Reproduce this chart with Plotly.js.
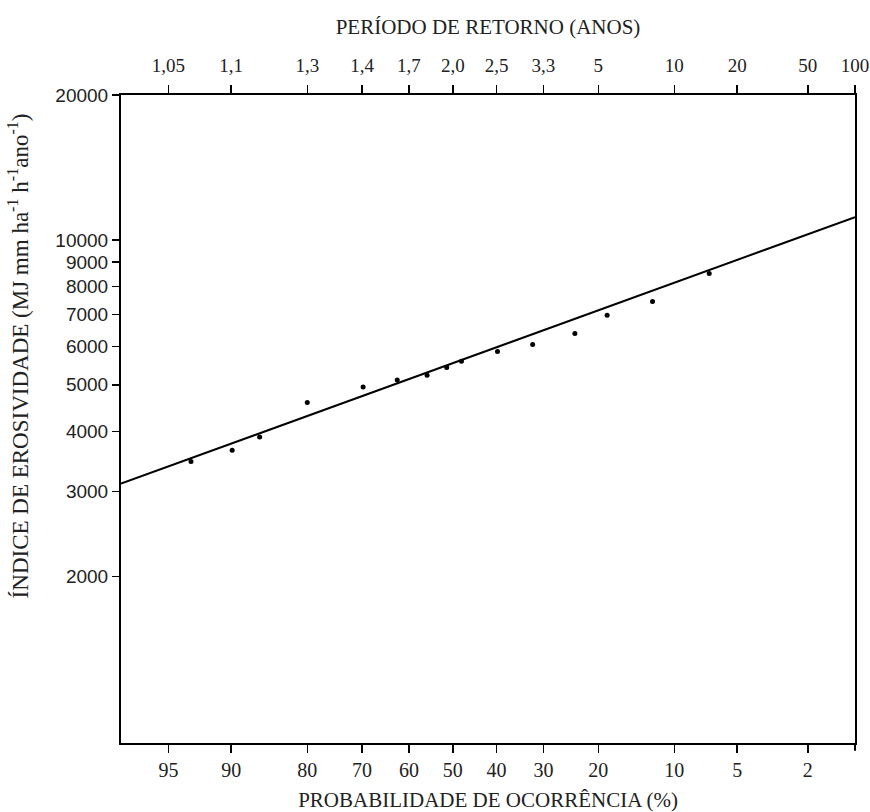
<!DOCTYPE html>
<html><head><meta charset="utf-8">
<script src="https://cdn.plot.ly/plotly-3.0.1.min.js"></script>
<style>html,body{margin:0;padding:0;background:#fff}#chart{width:870px;height:812px}</style>
</head><body><div id="chart"></div>
<script>
// Observed annual erosivity values and their probability of occurrence (%)
const probOccurrence = [93.5, 89.9, 86.8, 80.0, 69.8, 62.6, 55.9, 51.4, 48.0, 39.8, 32.2, 24.0, 18.6, 12.4, 6.9];
const erosivity = [3467, 3656, 3896, 4594, 4949, 5118, 5235, 5431, 5598, 5863, 6063, 6391, 6975, 7449, 8518];
// Fitted (log-normal) line end points
const fitProb = [97.25, 1];
const fitErosivity = [3117, 11153];
// Bottom axis: probability of occurrence (%)
const probTicks = [95, 90, 80, 70, 60, 50, 40, 30, 20, 10, 5, 2];
const probTickLabels = ["95", "90", "80", "70", "60", "50", "40", "30", "20", "10", "5", "2"];
// Top axis: return period (years)
const returnPeriods = [1.0526, 1.1111, 1.25, 1.4286, 1.6667, 2, 2.5, 3.3333, 5, 10, 20, 50, 100];
const returnPeriodLabels = ["1,05", "1,1", "1,3", "1,4", "1,7", "2,0", "2,5", "3,3", "5", "10", "20", "50", "100"];
// Y axis ticks
const yTicks = [2000, 3000, 4000, 5000, 6000, 7000, 8000, 9000, 10000, 20000];
const yTickLabels = ["2000", "3000", "4000", "5000", "6000", "7000", "8000", "9000", "10000", "20000"];
const probRange = [97.25, 1];
const yRange = [901.6, 20000];

function normInv(p){
  const a=[-3.969683028665376e+01,2.209460984245205e+02,-2.759285104469687e+02,1.383577518672690e+02,-3.066479806614716e+01,2.506628277459239e+00];
  const b=[-5.447609879822406e+01,1.615858368580409e+02,-1.556989798598866e+02,6.680131188771972e+01,-1.328068155288572e+01];
  const c=[-7.784894002430293e-03,-3.223964580411365e-01,-2.400758296709947e+00,-2.549732539343734e+00,4.374664141464968e+00,2.938163982698783e+00];
  const d=[7.784695709041462e-03,3.224671290700398e-01,2.445134137142996e+00,3.754408661907416e+00];
  const pl=0.02425, ph=1-pl; let q,r;
  if(p<pl){q=Math.sqrt(-2*Math.log(p));return (((((c[0]*q+c[1])*q+c[2])*q+c[3])*q+c[4])*q+c[5])/((((d[0]*q+d[1])*q+d[2])*q+d[3])*q+1);}
  if(p<=ph){q=p-0.5;r=q*q;return (((((a[0]*r+a[1])*r+a[2])*r+a[3])*r+a[4])*r+a[5])*q/(((((b[0]*r+b[1])*r+b[2])*r+b[3])*r+b[4])*r+1);}
  q=Math.sqrt(-2*Math.log(1-p));return -(((((c[0]*q+c[1])*q+c[2])*q+c[3])*q+c[4])*q+c[5])/((((d[0]*q+d[1])*q+d[2])*q+d[3])*q+1);
}
// probability of occurrence (%) -> normal probability paper coordinate
const zOf = pct => normInv(1 - pct / 100);

const xRange = [zOf(probRange[0]), zOf(probRange[1]) + 1e-6];
const serif = "Liberation Serif, Times New Roman, serif";
const sans = "Liberation Sans, Arial, sans-serif";
const txt = "#222";

const traces = [
  { x: fitProb.map(zOf), y: fitErosivity, mode: "lines", line: {color: "#000", width: 2},
    showlegend: false, hoverinfo: "skip", cliponaxis: true },
  { x: probOccurrence.map(zOf), y: erosivity, mode: "markers", marker: {color: "#000", size: 5},
    showlegend: false, customdata: probOccurrence,
    hovertemplate: "%{customdata}%: %{y}<extra></extra>" },
  { x: [], y: [], xaxis: "x2", yaxis: "y", mode: "lines", showlegend: false, hoverinfo: "skip" }
];

const layout = {
  width: 870, height: 812,
  margin: {l: 121, r: 15, t: 95, b: 69},
  paper_bgcolor: "#fff", plot_bgcolor: "#fff",
  showlegend: false,
  xaxis: {
    range: xRange, tickmode: "array", tickvals: probTicks.map(zOf), ticktext: probTickLabels,
    ticks: "outside", ticklen: 8, tickwidth: 1.5, tickcolor: "#000",
    showline: true, linewidth: 2, linecolor: "#000", showgrid: false, zeroline: false,
    tickfont: {family: serif, size: 20, color: txt}, ticklabelstandoff: 0,
    title: {text: "PROBABILIDADE DE OCORRÊNCIA (%)", font: {family: serif, size: 21, color: txt}, standoff: 13}
  },
  xaxis2: {
    overlaying: "x", side: "top", anchor: "y",
    range: xRange, tickmode: "array", tickvals: returnPeriods.map(T => zOf(100 / T)), ticktext: returnPeriodLabels,
    ticks: "outside", ticklen: 8, tickwidth: 1.5, tickcolor: "#000",
    showline: true, linewidth: 2, linecolor: "#000", showgrid: false, zeroline: false,
    tickfont: {family: serif, size: 19, color: txt}, ticklabelstandoff: 5, ticklabeloverflow: "allow",
    title: {text: "PERÍODO DE RETORNO (ANOS)", font: {family: serif, size: 21, color: txt}, standoff: 15}
  },
  yaxis: {
    type: "log", range: [Math.log10(yRange[0]), Math.log10(yRange[1])],
    tickmode: "array", tickvals: yTicks, ticktext: yTickLabels,
    ticks: "outside", ticklen: 7, tickwidth: 1.5, tickcolor: "#000",
    showline: true, linewidth: 2, linecolor: "#000", mirror: true, showgrid: false, zeroline: false,
    tickfont: {family: sans, size: 19, color: txt}
  },
  shapes: [
    {type: "line", xref: "paper", yref: "paper", x0: 1, x1: 1, y0: -0.012, y1: 0, line: {color: "#000", width: 2}}
  ],
  annotations: [{
    text: "ÍNDICE DE EROSIVIDADE (MJ mm ha<sup>-1</sup> h<sup>-1</sup>ano<sup>-1</sup>)",
    xref: "paper", yref: "paper", x: -0.14, y: 0.597, xanchor: "center", yanchor: "middle",
    textangle: -90, showarrow: false, font: {family: serif, size: 23, color: txt}
  }]
};

Plotly.newPlot("chart", traces, layout, {displayModeBar: false, staticPlot: true});
</script>
</body></html>
